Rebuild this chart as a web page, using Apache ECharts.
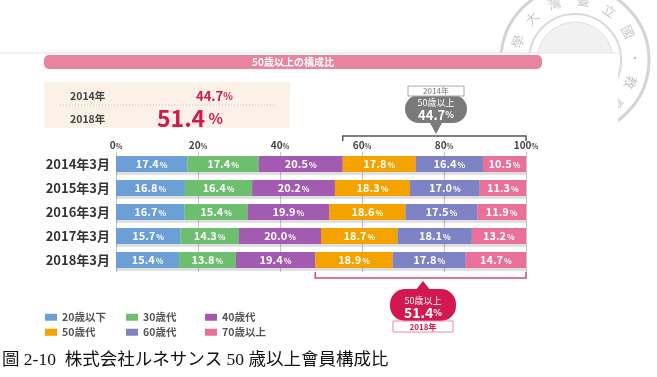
<!DOCTYPE html>
<html>
<head>
<meta charset="utf-8">
<script src="https://cdn.jsdelivr.net/npm/echarts/dist/echarts.min.js"></script>
<style>
  html, body { margin: 0; padding: 0; background: #fff; }
  #main { width: 657px; height: 377px; }
</style>
</head>
<body>
<div id="main"></div>
<script>
// データ
const categories = ['2014年3月', '2015年3月', '2016年3月', '2017年3月', '2018年3月']
const seriesNames = ['20歳以下', '30歳代', '40歳代', '50歳代', '60歳代', '70歳以上']
const age20 = [17.4, 16.8, 16.7, 15.7, 15.4]
const age30 = [17.4, 16.4, 15.4, 14.3, 13.8]
const age40 = [20.5, 20.2, 19.9, 20.0, 19.4]
const age50 = [17.8, 18.3, 18.6, 18.7, 18.9]
const age60 = [16.4, 17.0, 17.5, 18.1, 17.8]
const age70 = [10.5, 11.3, 11.9, 13.2, 14.7]
const tickValues = [0, 20, 40, 60, 80, 100]

const colors = ['#6b9fd6', '#6dbf6f', '#a25bb0', '#f3a200', '#7e83c6', '#e8709a']
const FONT = '"Noto Sans CJK JP", "Noto Sans", sans-serif'
const RED = '#d3184f'

const chart = echarts.init(document.getElementById('main'))

function makeSeries(name, data, color) {
  return {
    name: name,
    type: 'bar',
    stack: 'total',
    data: data,
    barWidth: 16,
    itemStyle: {
      color: color,
      shadowColor: 'rgba(0,0,0,0.12)',
      shadowOffsetY: 3
    },
    label: {
      show: true,
      position: 'inside',
      formatter: (p) => '{v|' + p.value.toFixed(1) + '}{u|%}',
      rich: {
        v: { color: '#fff', fontSize: 11, fontWeight: 'bold', fontFamily: FONT },
        u: { color: '#fff', fontSize: 8, fontWeight: 'bold', fontFamily: FONT, padding: [2, 0, 0, 1] }
      }
    }
  }
}

const allData = [age20, age30, age40, age50, age60, age70]
const cols = [45, 126, 205]
const rows = [312, 327]

const option = {
  animation: false,
  textStyle: { fontFamily: FONT },
  grid: { left: 116, right: 131, top: 152, height: 120 },
  legend: seriesNames.map((n, i) => ({
    data: [n],
    left: cols[i % 3],
    top: rows[Math.floor(i / 3)],
    icon: 'rect',
    itemWidth: 12,
    itemHeight: 7,
    padding: 0,
    selectedMode: false,
    textStyle: { fontSize: 10.5, color: '#555', fontWeight: 'bold', fontFamily: FONT }
  })),
  xAxis: {
    type: 'value',
    position: 'top',
    min: 0,
    max: 100,
    interval: 20,
    axisLine: { show: false },
    axisTick: { show: false },
    splitLine: { show: true, lineStyle: { color: '#c4c4c4', width: 1 } },
    axisLabel: {
      margin: 2,
      formatter: (v) => tickValues.includes(v) ? '{v|' + v + '}{u|%}' : '',
      rich: {
        v: { color: '#444', fontSize: 10, fontWeight: 'bold', fontFamily: FONT },
        u: { color: '#444', fontSize: 7, fontWeight: 'bold', fontFamily: FONT, padding: [2, 0, 0, 0] }
      }
    }
  },
  yAxis: {
    type: 'category',
    data: categories,
    inverse: true,
    axisLine: { show: false },
    axisTick: { show: false },
    axisLabel: { margin: 6, color: '#333', fontSize: 13, fontWeight: 'bold', fontFamily: FONT }
  },
  series: seriesNames.map((n, i) => makeSeries(n, allData[i], colors[i]))
}
chart.setOption(option)

// 50歳以上の合計
const last = categories.length - 1
const over50First = age50[0] + age60[0] + age70[0]
const over50Last = age50[last] + age60[last] + age70[last]
const fmt = (v) => v.toFixed(1)

const xTopL = chart.convertToPixel({ xAxisIndex: 0 }, 100 - over50First)
const xBotL = chart.convertToPixel({ xAxisIndex: 0 }, 100 - over50Last)
const xR = chart.convertToPixel({ xAxisIndex: 0 }, 100)

// 透かし(校章) - 一番下に描く
const sealCx = 575, sealCy = 60
const sealChars = [['學', -72], ['大', -46], ['灣', -20], ['臺', 8], ['立', 35], ['國', 62], ['·', 88], ['教', 112], ['育', 136]]
const seal = [
  { type: 'circle', z: -3, shape: { cx: sealCx, cy: sealCy, r: 74 }, style: { fill: 'none', stroke: '#d4d4d4', lineWidth: 3 } },
  { type: 'circle', z: -3, shape: { cx: sealCx, cy: sealCy, r: 46 }, style: { fill: 'none', stroke: '#dadada', lineWidth: 2 } },
  { type: 'circle', z: -3, shape: { cx: sealCx, cy: sealCy, r: 38 }, style: { fill: '#f1f1f1', stroke: '#e0e0e0', lineWidth: 1 } }
].concat(sealChars.map(([c, deg]) => {
  const t = deg * Math.PI / 180
  return {
    type: 'text', z: -3,
    x: sealCx + 60 * Math.sin(t), y: sealCy - 60 * Math.cos(t),
    rotation: -t,
    style: { text: c, fill: '#c8c8c8', font: '13px "Noto Sans CJK TC"', align: 'center', verticalAlign: 'middle' }
  }
}))

const graphics = seal.concat([
  // 白い図版の背景
  { type: 'rect', z: -2, shape: { x: 0, y: 53, width: 618, height: 290 }, style: { fill: '#fff' } },
  { type: 'line', z: -1, shape: { x1: 0, y1: 53, x2: 618, y2: 53 }, style: { stroke: '#e6e6e6', lineWidth: 1 } },
  // タイトル帯
  { type: 'rect', z: 2, shape: { x: 44, y: 55, width: 498, height: 14, r: 5 }, style: { fill: '#e8849f' } },
  { type: 'text', z: 3, x: 293, y: 62, style: { text: '50歳以上の構成比', fill: '#fff', font: 'bold 10px ' + FONT, align: 'center', verticalAlign: 'middle' } },
  // まとめ枠
  { type: 'rect', z: 2, shape: { x: 44, y: 82, width: 246, height: 46 }, style: { fill: '#fcf1e7' } },
  { type: 'text', z: 3, x: 70, y: 96, style: { text: '2014年', fill: '#444', font: 'bold 10.5px ' + FONT, verticalAlign: 'middle' } },
  { type: 'text', z: 3, x: 196, y: 96, style: { text: '{v|' + fmt(over50First) + '}{u|%}', fill: RED, verticalAlign: 'middle',
    rich: { v: { fill: RED, font: 'bold 13px ' + FONT }, u: { fill: RED, font: 'bold 10px ' + FONT } } } },
  { type: 'line', z: 3, shape: { x1: 60, y1: 105, x2: 275, y2: 105 }, style: { stroke: '#cfc6bd', lineWidth: 1, lineDash: [1, 2] } },
  { type: 'text', z: 3, x: 70, y: 119, style: { text: '2018年', fill: '#444', font: 'bold 10.5px ' + FONT, verticalAlign: 'middle' } },
  { type: 'text', z: 3, x: 157, y: 118, style: { text: '{v|' + fmt(over50Last) + '}{u| %}', fill: RED, verticalAlign: 'middle',
    rich: { v: { fill: RED, font: 'bold 23px ' + FONT }, u: { fill: RED, font: 'bold 15px ' + FONT } } } },
  // 上の吹き出し (2014年)
  { type: 'polyline', z: 3, shape: { points: [[xTopL, 141], [xTopL, 136], [xR, 136], [xR, 141]] }, style: { stroke: '#555', lineWidth: 1.5, fill: 'none' } },
  { type: 'rect', z: 3, shape: { x: 405, y: 95, width: 62, height: 28, r: 14 }, style: { fill: '#7a7a7a' } },
  { type: 'polygon', z: 3, shape: { points: [[429, 121], [443, 121], [436, 134]] }, style: { fill: '#7a7a7a' } },
  { type: 'text', z: 4, x: 436, y: 103, style: { text: '50歳以上', fill: '#fff', font: '9px ' + FONT, align: 'center', verticalAlign: 'middle' } },
  { type: 'text', z: 4, x: 436, y: 115, style: { text: '{v|' + fmt(over50First) + '}{u|%}', align: 'center', verticalAlign: 'middle',
    rich: { v: { fill: '#fff', font: 'bold 13px ' + FONT }, u: { fill: '#fff', font: 'bold 9px ' + FONT } } } },
  { type: 'rect', z: 4, shape: { x: 408, y: 86, width: 56, height: 10 }, style: { fill: '#fff', stroke: '#aaa', lineWidth: 1 } },
  { type: 'text', z: 5, x: 436, y: 91, style: { text: '2014年', fill: '#777', font: '8px ' + FONT, align: 'center', verticalAlign: 'middle' } },
  // 下の吹き出し (2018年)
  { type: 'polyline', z: 3, shape: { points: [[xBotL, 272], [xBotL, 278], [xR, 278], [xR, 272]] }, style: { stroke: '#d84a72', lineWidth: 1.5, fill: 'none' } },
  { type: 'rect', z: 3, shape: { x: 390, y: 289, width: 66, height: 32, r: 15 }, style: { fill: RED } },
  { type: 'polygon', z: 3, shape: { points: [[415, 291], [431, 291], [423, 281]] }, style: { fill: RED } },
  { type: 'text', z: 4, x: 423, y: 301, style: { text: '50歳以上', fill: '#fff', font: '9px ' + FONT, align: 'center', verticalAlign: 'middle' } },
  { type: 'text', z: 4, x: 423, y: 313, style: { text: '{v|' + fmt(over50Last) + '}{u|%}', align: 'center', verticalAlign: 'middle',
    rich: { v: { fill: '#fff', font: 'bold 14px ' + FONT }, u: { fill: '#fff', font: 'bold 9px ' + FONT } } } },
  { type: 'rect', z: 4, shape: { x: 393, y: 321, width: 60, height: 11 }, style: { fill: '#fff', stroke: '#e98aa5', lineWidth: 1 } },
  { type: 'text', z: 5, x: 423, y: 326.5, style: { text: '2018年', fill: RED, font: 'bold 8px ' + FONT, align: 'center', verticalAlign: 'middle' } },
  // 図のキャプション
  { type: 'text', z: 5, x: 2, y: 360, style: { text: '圖 2-10  株式会社ルネサンス 50 歳以上會員構成比', fill: '#111', font: '17.5px "Liberation Serif", "Noto Sans CJK TC"', verticalAlign: 'middle' } }
])

chart.setOption({ graphic: graphics })
</script>
</body>
</html>
